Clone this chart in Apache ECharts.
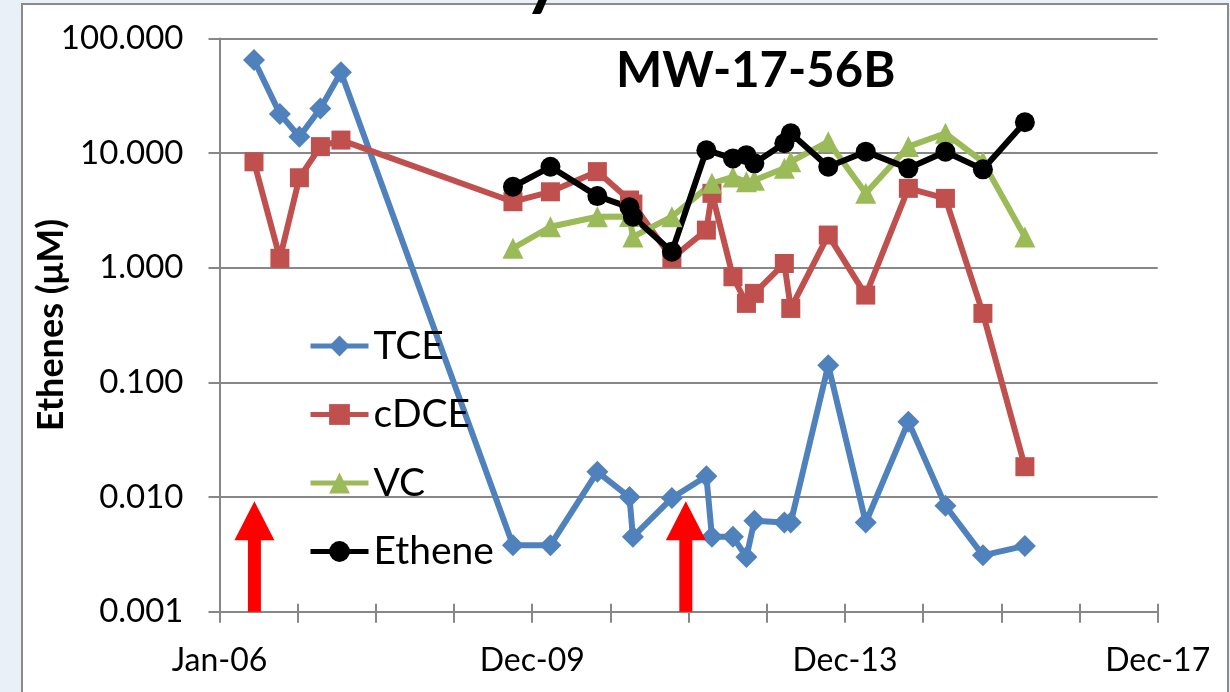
<!DOCTYPE html>
<html>
<head>
<meta charset="utf-8">
<script src="https://cdn.jsdelivr.net/npm/echarts@6/dist/echarts.min.js"></script>
<style>
html,body{margin:0;padding:0;background:#eaf0f7;}
#chart{width:1230px;height:692px;}
</style>
</head>
<body>
<div id="chart"></div>
<script>
// Sampling dates
const sampleDates = [
  '2006-06-11','2006-10-10','2007-01-09','2007-04-17','2007-07-22',
  '2009-10-02','2010-03-26','2010-10-31','2011-03-30','2011-04-15',
  '2011-10-14','2012-03-23','2012-04-18','2012-07-25','2012-09-26',
  '2012-11-02','2013-03-22','2013-04-21','2013-10-13','2014-04-06',
  '2014-10-22','2015-04-13','2015-10-05','2016-04-18'
];
// Concentrations (µM)
const tce = [64.9, 22, 13.9, 24.5, 50.7, 0.0038, 0.0038, 0.0166, 0.0100, 0.0045,
  0.0098, 0.0152, 0.0045, 0.0045, 0.0030, 0.0062, 0.0060, 0.0060, 0.141, 0.0060,
  0.0455, 0.0084, 0.0031, 0.00375];
const cdce = [8.4, 1.21, 6.1, 11.4, 13.0, 3.77, 4.6, 6.9, 3.9, 3.6,
  1.21, 2.13, 4.46, 0.835, 0.489, 0.598, 1.09, 0.442, 1.93, 0.578,
  4.93, 4.03, 0.40, 0.0184];
const vc = [null, null, null, null, null, 1.48, 2.28, 2.79, 2.8, 1.86,
  2.79, null, 5.45, 6.2, 5.63, 5.8, 7.37, 8.41, 12.6, 4.46,
  11.4, 14.9, 8.41, 1.86];
const ethene = [null, null, null, null, null, 5.09, 7.6, 4.22, 3.37, 2.79,
  1.38, 10.6, null, 9.0, 9.6, 8.15, 12.2, 14.9, 7.6, 10.3,
  7.37, 10.3, 7.22, 18.6];
// Injection events (red arrows)
const eventDates = ['2006-06-13', '2011-12-18'];
const arrowBase = 0.001, arrowTip = 0.0092;
// Axis
const axisStart = '2006-01-01';
const axisDays = 4380, tickDays = 365, labelEvery = 1460;
const yTicks = [0.001, 0.01, 0.1, 1, 10, 100];
const monthNames = ['Jan','Feb','Mar','Apr','May','Jun','Jul','Aug','Sep','Oct','Nov','Dec'];

const DAY = 86400000;
const t0 = Date.parse(axisStart + 'T00:00:00Z');
const toDays = s => Math.round((Date.parse(s + 'T00:00:00Z') - t0) / DAY);
const pair = arr => sampleDates.map((d, i) => [toDays(d), arr[i]]);

const FONT = 'Lato, "Open Sans", "Liberation Sans", sans-serif';

const chart = echarts.init(document.getElementById('chart'), null, {renderer: 'canvas'});
const gridColor = '#878787';

const mk = (name, arr, color, symbol, size) => ({
  name, type: 'line', data: pair(arr), connectNulls: true,
  symbol, symbolSize: size, showSymbol: true,
  lineStyle: {color, width: 6},
  itemStyle: {color, borderWidth: 0},
  emphasis: {disabled: true}
});

chart.setOption({
  animation: false,
  backgroundColor: 'transparent',
  textStyle: {fontFamily: FONT},
  title: {
    text: 'MW-17-56B', left: 611, top: 42,
    textStyle: {fontFamily: FONT, fontSize: 49, fontWeight: 'bold', color: '#000'}
  },
  graphic: [
    {type: 'rect', z: -100, shape: {x: 22, y: 4, width: 1206, height: 720},
      style: {fill: '#ffffff', stroke: '#8a8a8a', lineWidth: 2}},
    {type: 'text', z: 100, x: 543, y: 14,
      style: {text: 'y', font: 'bold 74px ' + FONT, fill: '#000', align: 'center', verticalAlign: 'bottom'}}
  ],
  grid: {left: 219.5, right: 72.3, top: 38.5, bottom: 80.3, containLabel: false},
  legend: {
    orient: 'vertical', left: 303, top: 321, itemGap: 28.5, itemWidth: 58, itemHeight: 26,
    lineStyle: {width: 5},
    textStyle: {fontFamily: FONT, fontSize: 39, color: '#000', lineHeight: 40},
    data: ['TCE', 'cDCE', 'VC', 'Ethene']
  },
  xAxis: [{
    type: 'value', min: 0, max: axisDays, interval: tickDays,
    axisLine: {lineStyle: {color: gridColor, width: 2}},
    axisTick: {show: true, inside: false, length: 11, lineStyle: {color: gridColor, width: 2}},
    splitLine: {show: false},
    axisLabel: {
      margin: 33, fontSize: 32, color: '#000', fontFamily: FONT, showMaxLabel: true, showMinLabel: true,
      formatter: v => {
        if (v % labelEvery !== 0) return '';
        const d = new Date(t0 + v * DAY);
        return monthNames[d.getUTCMonth()] + '-' + String(d.getUTCFullYear()).slice(2);
      }
    }
  }, {
    type: 'value', min: 0, max: axisDays, interval: tickDays, position: 'bottom', offset: 0,
    axisLine: {show: false},
    axisTick: {show: true, inside: true, length: 8, lineStyle: {color: gridColor, width: 2}},
    axisLabel: {show: false}, splitLine: {show: false}
  }],
  yAxis: {
    type: 'log', logBase: 10, min: yTicks[0], max: yTicks[yTicks.length - 1], splitNumber: 5,
    name: 'Ethenes (μM)', nameLocation: 'middle', nameGap: 150, nameRotate: 90, nameMoveOverlap: false,
    nameTextStyle: {fontFamily: FONT, fontSize: 36, fontWeight: 'bold', color: '#000'},
    axisLine: {show: true, lineStyle: {color: gridColor, width: 2}},
    axisTick: {show: true, inside: false, length: 11, lineStyle: {color: gridColor, width: 2}},
    splitLine: {show: true, lineStyle: {color: gridColor, width: 2}},
    axisLabel: {margin: 36, fontSize: 33, color: '#000', fontFamily: FONT,
      formatter: v => Number(v).toFixed(3)}
  },
  series: [
    mk('TCE', tce, '#4f81bd', 'diamond', 22),
    mk('cDCE', cdce, '#c0504d', 'rect', 19),
    mk('VC', vc, '#9bbb59', 'triangle', 21),
    mk('Ethene', ethene, '#000000', 'circle', 20),
    {
      type: 'custom', name: 'events', silent: true, z: 5,
      data: eventDates.map(d => [toDays(d), arrowBase, arrowTip]),
      encode: {x: 0, y: [1, 2]},
      renderItem: (params, api) => {
        const x = api.value(0);
        const b = api.coord([x, api.value(1)]);
        const t = api.coord([x, api.value(2)]);
        const hw = 6.5, headW = 20, headL = 39;
        const cx = b[0];
        const hy = t[1] + headL;
        return {
          type: 'polygon',
          shape: {points: [
            [cx - hw, b[1]], [cx - hw, hy], [cx - headW, hy], [cx, t[1]],
            [cx + headW, hy], [cx + hw, hy], [cx + hw, b[1]]
          ]},
          style: {fill: '#ff0000'}
        };
      }
    }
  ]
});
</script>
</body>
</html>
